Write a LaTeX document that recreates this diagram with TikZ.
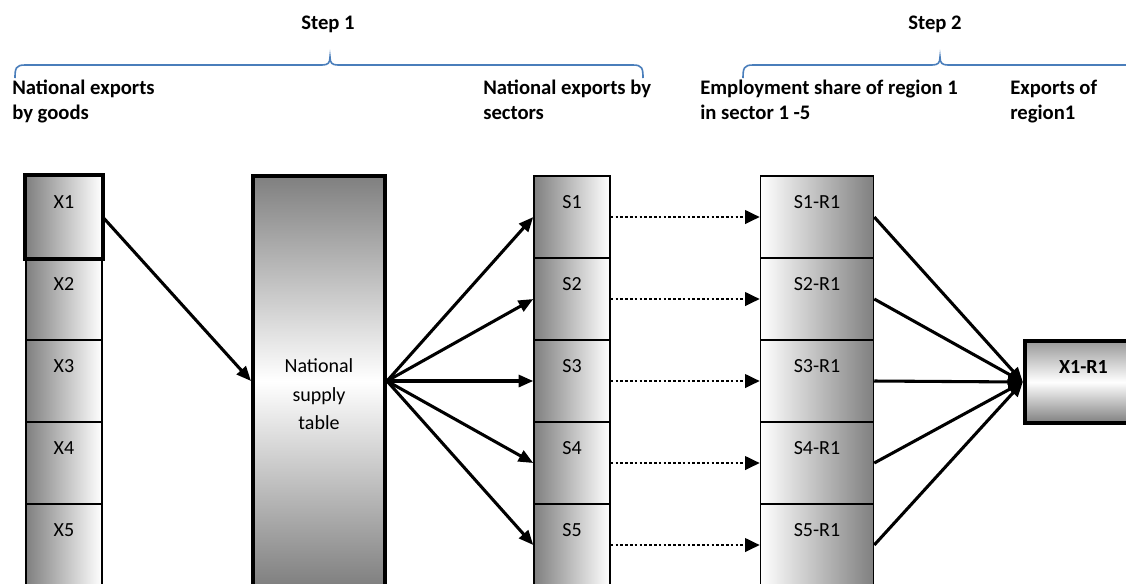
\documentclass[tikz,border=0pt]{standalone}
\usepackage{fontspec}
\setmainfont{Carlito}
\usetikzlibrary{arrows.meta}

\definecolor{bracecol}{HTML}{4A7EBB}

\begin{document}
\begin{tikzpicture}[x=0.75pt, y=-0.75pt,
  cell/.style={draw, line width=1.1pt, minimum width=57pt, minimum height=61.5pt,
    inner sep=0pt, text height=10.5pt, text depth=24pt,
    font=\fontsize{15}{17}\selectfont},
  xcell/.style={cell, left color=gray, right color=white},
  rcell/.style={cell, minimum width=84.75pt, left color=white, right color=gray},
  supbox/.style={draw, line width=3pt, minimum width=99pt, minimum height=307.5pt,
    top color=gray, bottom color=gray, middle color=white},
  outbox/.style={draw, line width=3pt, minimum width=88pt, minimum height=61.5pt,
    inner sep=0pt, text height=10.5pt, text depth=24pt,
    top color=gray!80, bottom color=gray, middle color=white,
    font=\bfseries\fontsize{15}{17}\selectfont},
  head/.style={anchor=base west, align=left, inner sep=0pt,
    font=\bfseries\fontsize{15.5}{18.75}\selectfont},
  steplab/.style={anchor=base, inner sep=0pt, font=\bfseries\fontsize{15.5}{18}\selectfont},
  flow/.style={line width=2.3pt, -{Triangle[length=11pt, width=9pt]}},
  dotflow/.style={line width=2pt, dash pattern=on 2pt off 1.6pt,
    -{Triangle[length=11pt, width=10pt]}},
  brace line/.style={draw=bracecol, line width=1.2pt}
]
\useasboundingbox (0,0) rectangle (1126,583);
\clip (0,0) rectangle (1126,583);

% Step labels
\node[steplab] (st1) at (328,29) {Step 1};
\node[steplab] (st2) at (935,29) {Step 2};

% Braces
\draw[brace line] (15,78) .. controls (15,68) and (16,65) .. (25,65) -- (322,65)
  .. controls (328,65) and (330,63) .. (330,57) .. controls (330,63) and (332,65) .. (338,65)
  -- (633,65) .. controls (642,65) and (643,68) .. (643,78);
\draw[brace line] (743,78) .. controls (743,68) and (744,65) .. (753,65) -- (932,65)
  .. controls (938,65) and (940,63) .. (940,57) .. controls (940,63) and (942,65) .. (948,65)
  -- (1127,65) .. controls (1136,65) and (1137,68) .. (1137,78);

% Column headings (base = last line)
\node[head] (hd1) at (12,119) {National exports\\by goods};
\node[head] (hd2) at (483,119) {National exports by\\sectors};
\node[head] (hd3) at (700,119) {Employment share of region 1\\in sector 1 -5};
\node[head] (hd4) at (1010,119) {Exports of\\region1};

% Columns of cells
\foreach \i in {1,...,5} {
  \node[xcell] (x\i) at (64,{217+82*(\i-1)}) {X\i};
  \node[xcell] (s\i) at (572,{217+82*(\i-1)}) {S\i};
  \node[rcell] (r\i) at (817,{217+82*(\i-1)}) {S\i-R1};
}
\draw[line width=3pt] (x1.north west) rectangle (x1.south east);

% Supply table and output
\node[supbox, label={[align=center, yshift=-10pt,
    font=\fontsize{15}{21.4}\selectfont]center:{National\\supply\\table}}] (sup) at (319,381) {};
\node[outbox] (out) at (1083.5,382) {X1-R1};

% Connectors
\draw[flow] (x1.east) -- (sup.west);
\foreach \i in {1,...,5} {
  \draw[flow] (sup.east) -- (s\i.west);
  \draw[dotflow] (s\i.east) -- (r\i.west);
  \draw[flow] (r\i.east) -- (out.west);
}

\end{tikzpicture}
\end{document}
